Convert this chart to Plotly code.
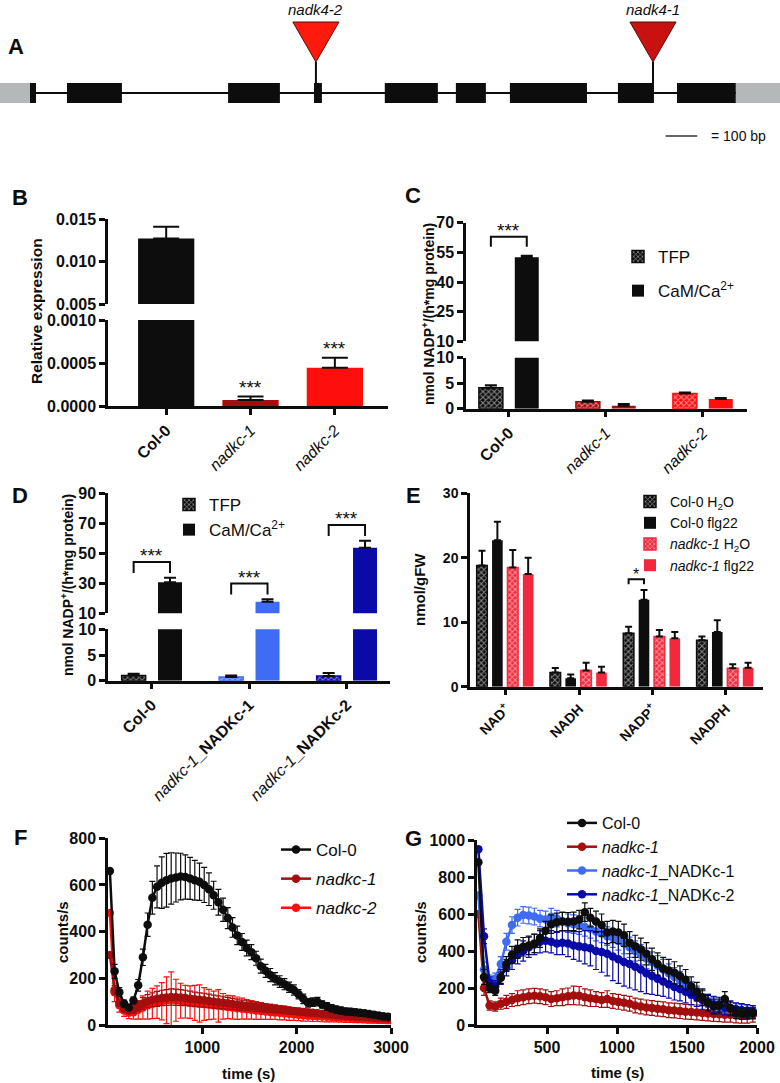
import plotly.graph_objects as go

W, H = 780, 1083
FONT = "Liberation Sans"
BLACK = "#0d0d0d"
DARKRED = "#a30e0e"
RED = "#ff0e0e"
CRIMSON = "#f2293d"
LBLUE = "#3e6cf3"
DBLUE = "#0a0aa8"
GRAY = "#b4b8b8"

# ---------------- A: gene model (bp) ----------------
GENE_LENGTH_BP = 2469
UTR_START = [0, 2329]
UTR_END = [95, 2469]
EXON_START = [95, 212, 722, 994, 1218, 1443, 1614, 1956, 2143]
EXON_END = [114, 386, 886, 1019, 1386, 1538, 1858, 2070, 2329]
INSERT_NAMES = ["nadk4-2", "nadk4-1"]
INSERT_POS = [1000, 2067]
INSERT_COLORS = ["#ff1a0d", "#c81212"]
SCALE_BAR_BP = 100

# ---------------- B: relative expression ----------------
B_CATS = ["Col-0", "nadkc-1", "nadkc-2"]
B_VALUES = [0.0127, 0.00007, 0.000445]
B_ERR = [0.0014, 0.00004, 0.000115]
B_SIG = ["", "***", "***"]
B_COLORS = [BLACK, DARKRED, RED]

# ---------------- C: NADK activity ----------------
C_CATS = ["Col-0", "nadkc-1", "nadkc-2"]
C_TFP = [4.1, 1.35, 3.0]
C_TFP_ERR = [0.5, 0.25, 0.2]
C_CAM = [52.5, 0.6, 1.9]
C_CAM_ERR = [0.8, 0.3, 0.2]
C_SIG = ["***", "", ""]
C_COLORS = [BLACK, DARKRED, RED]

# ---------------- D: complementation activity ----------------
D_CATS = ["Col-0", "nadkc-1_NADKc-1", "nadkc-1_NADKc-2"]
D_TFP = [1.0, 0.7, 0.9]
D_TFP_ERR = [0.35, 0.3, 0.6]
D_CAM = [30.7, 17.7, 53.7]
D_CAM_ERR = [3.0, 1.6, 4.7]
D_SIG = ["***", "***", "***"]
D_COLORS = [BLACK, LBLUE, DBLUE]

# ---------------- E: pyridine nucleotides ----------------
E_CATS = ["NAD+", "NADH", "NADP+", "NADPH"]
E_COL_H2O = [18.8, 2.2, 8.3, 7.2]
E_COL_H2O_ERR = [2.3, 0.7, 1.0, 0.6]
E_COL_FLG = [22.7, 1.3, 13.5, 8.5]
E_COL_FLG_ERR = [2.9, 0.6, 1.5, 1.8]
E_NAD_H2O = [18.5, 2.5, 7.8, 2.85]
E_NAD_H2O_ERR = [2.7, 1.2, 1.0, 0.65]
E_NAD_FLG = [17.5, 2.2, 7.5, 2.95]
E_NAD_FLG_ERR = [2.5, 0.9, 1.0, 0.75]
E_SIG = ["", "", "*", ""]

# ---------------- F: ROS burst ----------------
F_TIME = [20, 70, 120, 170, 220, 270, 320, 370, 420, 470, 520, 570, 620, 670, 720,
          770, 820, 870, 920, 970, 1020, 1070, 1120, 1170, 1220, 1270, 1320, 1370, 1420, 1470,
          1520, 1570, 1620, 1670, 1720, 1770, 1820, 1870, 1920, 1970, 2020, 2070, 2120, 2170, 2220,
          2270, 2320, 2370, 2420, 2470, 2520, 2570, 2620, 2670, 2720, 2770, 2820, 2870, 2920, 2970]
F_COL0 = [660, 230, 140, 92, 75, 105, 170, 290, 430, 545, 592, 610, 620, 628, 632,
          636, 634, 628, 620, 614, 600, 582, 556, 526, 494, 458, 418, 384, 356, 330,
          312, 286, 252, 232, 214, 198, 186, 175, 162, 150, 132, 112, 95, 98, 100,
          88, 80, 72, 66, 62, 58, 57, 55, 52, 50, 47, 44, 41, 37, 35]
F_COL0_ERR = [0, 30, 20, 15, 12, 15, 25, 35, 50, 70, 90, 110, 115, 110, 105,
              100, 95, 90, 85, 80, 75, 70, 60, 55, 50, 45, 42, 40, 36, 34,
              32, 30, 30, 28, 28, 26, 25, 24, 22, 22, 20, 20, 18, 18, 18,
              16, 16, 15, 15, 15, 14, 14, 14, 13, 13, 12, 12, 12, 12, 12]
F_NADKC1 = [300, 150, 95, 70, 62, 66, 80, 92, 102, 108, 112, 116, 118, 120, 119,
            118, 116, 113, 110, 108, 106, 103, 100, 98, 95, 93, 90, 88, 85, 83,
            80, 78, 76, 73, 71, 69, 67, 65, 62, 60, 58, 56, 54, 52, 50,
            48, 46, 45, 43, 41, 40, 38, 37, 35, 34, 33, 31, 30, 29, 28]
F_NADKC1_ERR = [0, 20, 15, 12, 12, 15, 20, 25, 28, 30, 32, 33, 34, 35, 35,
                34, 33, 32, 31, 30, 30, 29, 28, 27, 26, 25, 24, 23, 22, 21,
                20, 20, 19, 18, 18, 17, 16, 16, 15, 15, 14, 14, 14, 13, 13,
                12, 12, 12, 11, 11, 11, 10, 10, 10, 10, 10, 10, 10, 10, 10]
F_NADKC2 = [480, 140, 85, 62, 52, 55, 65, 75, 85, 92, 98, 102, 106, 108, 106,
            104, 100, 98, 95, 92, 90, 88, 85, 82, 80, 77, 75, 72, 70, 67,
            65, 62, 60, 58, 56, 54, 52, 50, 48, 46, 44, 42, 40, 39, 38,
            36, 35, 34, 33, 32, 31, 30, 29, 28, 27, 26, 25, 24, 23, 22]
F_NADKC2_ERR = [0, 40, 30, 25, 25, 30, 40, 50, 60, 65, 70, 80, 100, 120, 90,
                75, 70, 70, 75, 80, 70, 65, 60, 70, 55, 50, 50, 48, 45, 42,
                40, 38, 36, 34, 32, 30, 30, 28, 28, 26, 25, 25, 24, 24, 23,
                22, 22, 21, 20, 20, 20, 19, 19, 18, 18, 18, 17, 17, 16, 16]

# ---------------- G: ROS burst, complementation ----------------
G_TIME = [10, 50, 90, 130, 170, 210, 250, 290, 330, 370,
          410, 450, 490, 530, 570, 610, 650, 690, 730, 770,
          810, 850, 890, 930, 970, 1010, 1050, 1090, 1130, 1170,
          1210, 1250, 1290, 1330, 1370, 1410, 1450, 1490, 1530, 1570,
          1610, 1650, 1690, 1730, 1770, 1810, 1850, 1890, 1930, 1970]
G_COL0 = [880, 260, 200, 185, 255, 330, 380, 410, 423, 430,
          441, 470, 510, 545, 555, 559, 558, 560, 570, 610,
          580, 560, 540, 500, 505, 500, 485, 445, 425, 410,
          385, 355, 330, 306, 295, 282, 265, 245, 210, 180,
          150, 120, 100, 110, 140, 90, 65, 60, 62, 63]
G_COL0_ERR = [0, 40, 25, 25, 30, 40, 45, 50, 50, 50,
              50, 50, 50, 50, 50, 50, 50, 50, 50, 50,
              50, 55, 60, 60, 60, 60, 60, 60, 60, 60,
              60, 60, 60, 60, 60, 60, 55, 55, 50, 50,
              45, 40, 40, 40, 40, 35, 30, 30, 30, 30]
G_NADKC1 = [600, 200, 105, 100, 115, 125, 135, 145, 150, 155,
            158, 155, 150, 140, 145, 150, 155, 160, 158, 150,
            145, 140, 135, 140, 130, 125, 120, 115, 105, 100,
            95, 92, 88, 85, 80, 78, 75, 72, 70, 68,
            65, 62, 60, 58, 55, 55, 52, 50, 50, 55]
G_NADKC1_ERR = [0, 40, 25, 25, 30, 35, 35, 40, 40, 40,
                40, 40, 40, 40, 40, 45, 45, 50, 50, 45,
                45, 40, 40, 45, 40, 40, 40, 40, 40, 40,
                40, 40, 40, 40, 40, 40, 40, 40, 40, 40,
                40, 40, 40, 40, 40, 40, 40, 40, 40, 40]
G_COMP1 = [700, 300, 240, 250, 330, 450, 540, 580, 595, 592,
           586, 575, 570, 585, 575, 560, 550, 545, 540, 530,
           520, 505, 495, 480, 470, 455, 440, 420, 400, 380,
           360, 340, 320, 300, 280, 260, 240, 215, 190, 170,
           150, 130, 115, 100, 95, 90, 85, 80, 78, 75]
G_COMP1_ERR = [0, 40, 30, 30, 40, 45, 45, 45, 45, 45,
               45, 45, 45, 45, 45, 50, 50, 50, 50, 50,
               50, 50, 50, 50, 50, 50, 55, 55, 55, 55,
               55, 55, 55, 55, 50, 50, 50, 45, 45, 40,
               40, 35, 35, 30, 30, 30, 30, 30, 30, 30]
G_COMP2 = [950, 480, 230, 210, 260, 310, 350, 380, 400, 420,
           435, 450, 455, 450, 440, 445, 440, 430, 425, 420,
           415, 400, 395, 385, 370, 355, 340, 330, 315, 300,
           280, 265, 250, 235, 220, 205, 195, 180, 165, 150,
           135, 120, 110, 100, 95, 90, 85, 80, 75, 70]
G_COMP2_ERR = [0, 40, 30, 30, 40, 45, 50, 50, 55, 55,
               55, 60, 60, 60, 60, 65, 70, 75, 80, 90,
               95, 100, 110, 120, 130, 130, 130, 130, 125, 120,
               110, 100, 90, 80, 75, 70, 65, 60, 55, 50,
               50, 45, 45, 40, 40, 40, 35, 35, 35, 35]


def X(p):
    return p / W


def Y(p):
    return 1 - p / H


TICK_FONT = dict(family=FONT, size=16, color=BLACK, weight="bold")


def axis(**kw):
    d = dict(showline=True, linecolor=BLACK, linewidth=2.5, ticks="outside", ticklen=6,
             tickwidth=2.5, tickcolor=BLACK, showgrid=False, zeroline=False, fixedrange=True,
             automargin=False, tickfont=TICK_FONT)
    d.update(kw)
    return d


def xax(p0, p1, anchor, rng, **kw):
    return axis(domain=[X(p0), X(p1)], anchor=anchor, range=rng, **kw)


def yax(ptop, pbot, anchor, rng, **kw):
    return axis(domain=[Y(pbot), Y(ptop)], anchor=anchor, range=rng, **kw)


CAT_FONT = dict(family=FONT, size=16, color=BLACK, weight="normal")

fig = go.Figure()
annotations = []


def ann(text, x, y, size=15, xanchor="center", yanchor="middle", angle=0, xref="paper", yref="paper", yshift=0, **kw):
    annotations.append(dict(text=text, x=x, y=y, xref=xref, yref=yref, showarrow=False,
                            xanchor=xanchor, yanchor=yanchor, textangle=angle, yshift=yshift,
                            font=dict(family=FONT, size=size, color=BLACK), **kw))


# ================= Panel A =================
GENE_Y = 93
BOX_H = 20
fig.add_trace(go.Scatter(x=[EXON_START[0], EXON_END[-1]], y=[GENE_Y, GENE_Y], mode="lines",
                         line=dict(color=BLACK, width=2), xaxis="x", yaxis="y", showlegend=False, hoverinfo="skip"))
fig.add_trace(go.Bar(y=[GENE_Y] * len(UTR_START), x=[e - s for s, e in zip(UTR_START, UTR_END)], base=UTR_START,
                     orientation="h", width=BOX_H, marker=dict(color=GRAY, line_width=0),
                     xaxis="x", yaxis="y", showlegend=False, hoverinfo="skip"))
fig.add_trace(go.Bar(y=[GENE_Y] * len(EXON_START), x=[e - s for s, e in zip(EXON_START, EXON_END)], base=EXON_START,
                     orientation="h", width=BOX_H, marker=dict(color=BLACK, line_width=0),
                     xaxis="x", yaxis="y", showlegend=False, hoverinfo="skip"))
TRI_HALF_BP = 73
TRI_TOP, TRI_APEX = 22, 62
for name, pos, col in zip(INSERT_NAMES, INSERT_POS, INSERT_COLORS):
    fig.add_trace(go.Scatter(x=[pos, pos], y=[TRI_APEX, GENE_Y - BOX_H / 2], mode="lines",
                             line=dict(color=BLACK, width=2), xaxis="x", yaxis="y", showlegend=False, hoverinfo="skip"))
    fig.add_trace(go.Scatter(x=[pos - TRI_HALF_BP, pos + TRI_HALF_BP, pos, pos - TRI_HALF_BP],
                             y=[TRI_TOP, TRI_TOP, TRI_APEX, TRI_TOP], mode="lines", fill="toself",
                             fillcolor=col, line=dict(color="#5a0a0a", width=1), xaxis="x", yaxis="y",
                             showlegend=False, hoverinfo="skip"))
    ann("<i>%s</i>" % name, pos, 9, size=15, xref="x", yref="y")
SCALE_X0 = 2107
fig.add_trace(go.Scatter(x=[SCALE_X0, SCALE_X0 + SCALE_BAR_BP], y=[136, 136], mode="lines",
                         line=dict(color="#333333", width=1.5), xaxis="x", yaxis="y", showlegend=False, hoverinfo="skip"))
ann("= %d bp" % SCALE_BAR_BP, X(709), Y(136), size=14, xanchor="left")

# ================= bar helper =================
PATTERN = dict(shape="x", fgcolor="white", fillmode="overlay", size=4, solidity=0.45)


def add_bar(vals, errs, colors, xa, ya, offset, width, patterned, capw, name=None, legend=None,
            showlegend=False, rank=1, group=None):
    n = len(vals)
    marker = dict(color=colors, line=dict(color=colors, width=1.5 if patterned else 0))
    if patterned:
        marker["pattern"] = PATTERN
    fig.add_trace(go.Bar(x=list(range(n)), y=vals, offset=offset, width=width, xaxis=xa, yaxis=ya,
                         marker=marker, name=name, legend=legend, showlegend=showlegend,
                         legendrank=rank, legendgroup=group, hoverinfo="skip",
                         error_y=dict(type="data", array=errs, arrayminus=[0] * n, symmetric=False,
                                      color=BLACK, thickness=2, width=capw)))


def add_bracket(xa, ya, x0, x1, top, leg):
    fig.add_trace(go.Scatter(x=[x0, x0, x1, x1], y=[top - leg, top, top, top - leg], mode="lines",
                             line=dict(color=BLACK, width=2), xaxis=xa, yaxis=ya, showlegend=False,
                             hoverinfo="skip"))


STAR = 19

# ================= Panel B =================
for ya in ("y2", "y3"):
    fig.add_trace(go.Bar(x=list(range(len(B_CATS))), y=B_VALUES, width=0.667, xaxis="x2", yaxis=ya,
                         marker=dict(color=B_COLORS, line_width=0), showlegend=False, hoverinfo="skip",
                         error_y=dict(type="data", array=B_ERR, arrayminus=[0] * 3, symmetric=False,
                                      color=BLACK, thickness=2, width=13)))
for i, s in enumerate(B_SIG):
    if s:
        ann(s, i, B_VALUES[i] + B_ERR[i], size=STAR, xref="x2", yref="y2", yanchor="bottom", yshift=-3)

# ================= Panel C =================
TW, TOFF, COFF = 0.247, -0.31, 0.06
for ya, show in (("y4", True), ("y5", False)):
    add_bar(C_TFP, C_TFP_ERR, C_COLORS, "x3", ya, TOFF, TW, True, 6, "TFP", "legend", show, 1, "c1")
    add_bar(C_CAM, C_CAM_ERR, C_COLORS, "x3", ya, COFF, TW, False, 6, "CaM/Ca<sup>2+</sup>", "legend", show, 2, "c2")
for i, s in enumerate(C_SIG):
    if s:
        top = max(C_CAM[i] + C_CAM_ERR[i], C_TFP[i] + C_TFP_ERR[i]) + 9.6
        xa0, xa1 = i + TOFF + TW / 2, i + COFF + TW / 2
        add_bracket("x3", "y5", xa0, xa1, top, 5.1)
        ann(s, (xa0 + xa1) / 2, top, size=STAR, xref="x3", yref="y5", yanchor="bottom", yshift=-6)

# ================= Panel D =================
DW, DTOFF, DCOFF = 0.246, -0.308, 0.065
for ya, show in (("y6", True), ("y7", False)):
    add_bar(D_TFP, D_TFP_ERR, D_COLORS, "x4", ya, DTOFF, DW, True, 6, "TFP", "legend2", show, 1, "d1")
    add_bar(D_CAM, D_CAM_ERR, D_COLORS, "x4", ya, DCOFF, DW, False, 6, "CaM/Ca<sup>2+</sup>", "legend2", show, 2, "d2")
for i, s in enumerate(D_SIG):
    if s:
        top = max(D_CAM[i] + D_CAM_ERR[i], D_TFP[i] + D_TFP_ERR[i]) + 10.5
        xa0, xa1 = i + DTOFF + DW / 2, i + DCOFF + DW / 2
        add_bracket("x4", "y7", xa0, xa1, top, 7.3)
        ann(s, (xa0 + xa1) / 2, top, size=STAR, xref="x4", yref="y7", yanchor="bottom", yshift=-6)

# ================= Panel E =================
EW = 0.145
E_OFFS = [-0.40, -0.19, 0.02, 0.23]
E_SERIES = [
    (E_COL_H2O, E_COL_H2O_ERR, BLACK, True, "Col-0 H<sub>2</sub>O"),
    (E_COL_FLG, E_COL_FLG_ERR, BLACK, False, "Col-0 flg22"),
    (E_NAD_H2O, E_NAD_H2O_ERR, CRIMSON, True, "<i>nadkc-1</i> H<sub>2</sub>O"),
    (E_NAD_FLG, E_NAD_FLG_ERR, CRIMSON, False, "<i>nadkc-1</i> flg22"),
]
for k, (v, e, c, pat, nm) in enumerate(E_SERIES):
    add_bar(v, e, [c] * len(v), "x5", "y8", E_OFFS[k], EW, pat, 3.5, nm, "legend3", True, k + 1, "e%d" % k)
for i, s in enumerate(E_SIG):
    if s:
        top = max(E_COL_H2O[i] + E_COL_H2O_ERR[i], E_COL_FLG[i] + E_COL_FLG_ERR[i]) + 1.65
        xa0, xa1 = i + E_OFFS[0] + EW / 2, i + E_OFFS[1] + EW / 2
        add_bracket("x5", "y8", xa0, xa1, top, 0.75)
        ann(s, (xa0 + xa1) / 2, top, size=16, xref="x5", yref="y8", yanchor="bottom", yshift=-6)


# ================= Panels F & G =================
def add_curve(t, v, e, color, xa, ya, name, legend, rank):
    fig.add_trace(go.Scatter(x=t, y=v, mode="lines+markers", line=dict(color=color, width=2.5),
                             marker=dict(color=color, size=8.5), xaxis=xa, yaxis=ya, name=name,
                             legend=legend, legendrank=rank, legendgroup="%s%d" % (legend, rank),
                             hoverinfo="skip",
                             error_y=dict(type="data", array=e, color=color, thickness=1.2, width=3)))


add_curve(F_TIME, F_NADKC2, F_NADKC2_ERR, RED, "x6", "y9", "<i>nadkc-2</i>", "legend4", 3)
add_curve(F_TIME, F_NADKC1, F_NADKC1_ERR, DARKRED, "x6", "y9", "<i>nadkc-1</i>", "legend4", 2)
add_curve(F_TIME, F_COL0, F_COL0_ERR, BLACK, "x6", "y9", "Col-0", "legend4", 1)

add_curve(G_TIME, G_NADKC1, G_NADKC1_ERR, DARKRED, "x7", "y10", "<i>nadkc-1</i>", "legend5", 2)
add_curve(G_TIME, G_COMP1, G_COMP1_ERR, LBLUE, "x7", "y10", "<i>nadkc-1</i>_NADKc-1", "legend5", 3)
add_curve(G_TIME, G_COMP2, G_COMP2_ERR, DBLUE, "x7", "y10", "<i>nadkc-1</i>_NADKc-2", "legend5", 4)
add_curve(G_TIME, G_COL0, G_COL0_ERR, BLACK, "x7", "y10", "Col-0", "legend5", 1)

# ================= texts =================
for lab, px, py in (("A", 16, 46), ("B", 20, 197), ("C", 413, 195), ("D", 20, 495),
                    ("E", 413, 495), ("F", 20, 837), ("G", 413, 838)):
    ann("<b>%s</b>" % lab, X(px), Y(py), size=22)

YT = "<b>nmol NADP<sup>+</sup>/(h*mg protein)</b>"
ann("<b>Relative expression</b>", X(37), Y(311), size=15.5, angle=-90)
ann(YT, X(428), Y(314), size=14, angle=-90)
ann(YT, X(67), Y(585), size=14, angle=-90)
ann("<b>nmol/gFW</b>", X(419), Y(590), size=15, angle=-90)
ann("<b>counts/s</b>", X(62), Y(932), size=15, angle=-90)
ann("<b>counts/s</b>", X(420), Y(932), size=15, angle=-90)
ann("<b>time (s)</b>", X(249), Y(1073), size=15)
ann("<b>time (s)</b>", X(617), Y(1072), size=15)


def cat_text(cats):
    out = []
    for c in cats:
        if c.startswith("nadkc"):
            if "_" in c:
                a, b = c.split("_", 1)
                out.append("<i>%s</i><b>_%s</b>" % (a, b))
            else:
                out.append("<i>%s</i>" % c)
        else:
            out.append("<b>%s</b>" % c.replace("+", "<sup>+</sup>"))
    return out


def leg(px, ptop, size, gap):
    return dict(x=X(px), y=Y(ptop), xanchor="left", yanchor="top", bgcolor="rgba(0,0,0,0)",
                font=dict(family=FONT, size=size, color=BLACK), tracegroupgap=gap,
                itemclick=False, itemdoubleclick=False, borderwidth=0)


fig.update_layout(
    width=W, height=H, margin=dict(l=0, r=0, t=0, b=0, pad=0, autoexpand=False), autosize=False,
    paper_bgcolor="white", plot_bgcolor="rgba(0,0,0,0)", barmode="overlay",
    font=dict(family=FONT, color=BLACK), annotations=annotations,
    xaxis=dict(domain=[0, 1], range=[0, GENE_LENGTH_BP], visible=False, anchor="y", fixedrange=True),
    yaxis=dict(domain=[Y(150), 1], range=[150, 0], visible=False, anchor="x", fixedrange=True),
    # B
    xaxis2=xax(108, 388, "y2", [-0.69, 2.63], tickvals=list(range(3)), ticktext=cat_text(B_CATS),
               tickangle=-45, tickfont=CAT_FONT),
    yaxis2=yax(320, 406, "x2", [0, 0.001], tickvals=[0, 0.0005, 0.001], tickformat=".4f"),
    yaxis3=yax(219, 304, "x2", [0.005, 0.015], tickvals=[0.005, 0.010, 0.015], tickformat=".3f"),
    # C
    xaxis3=xax(466, 747, "y4", [-0.443, 2.454], tickvals=list(range(3)), ticktext=cat_text(C_CATS),
               tickangle=-45, tickfont=CAT_FONT),
    yaxis4=yax(357.7, 408.7, "x3", [0, 10], tickvals=[0, 5, 10]),
    yaxis5=yax(222.7, 341.3, "x3", [10, 70], tickvals=[10, 25, 40, 55, 70]),
    # D
    xaxis4=xax(108, 390, "y6", [-0.448, 2.444], tickvals=list(range(3)), ticktext=cat_text(D_CATS),
               tickangle=-45, tickfont=CAT_FONT),
    yaxis6=yax(629.3, 680.7, "x4", [0, 10], tickvals=[0, 5, 10]),
    yaxis7=yax(493.3, 613.3, "x4", [10, 90], tickvals=[10, 30, 50, 70, 90]),
    # E
    xaxis5=xax(470, 763, "y8", [-0.491, 3.506], tickvals=list(range(4)), ticktext=cat_text(E_CATS),
               tickangle=-45, tickfont=dict(family=FONT, size=14, color=BLACK, weight="normal")),
    yaxis8=yax(493.3, 686.7, "x5", [0, 30], tickvals=[0, 10, 20, 30],
               tickfont=dict(family=FONT, size=14, color=BLACK, weight="bold")),
    # F
    xaxis6=xax(108, 391, "y9", [0, 3000], tickvals=[1000, 2000, 3000]),
    yaxis9=yax(838.3, 1025, "x6", [0, 800], tickvals=[0, 200, 400, 600, 800]),
    # G
    xaxis7=xax(477, 757, "y10", [0, 2000], tickvals=[500, 1000, 1500, 2000]),
    yaxis10=yax(840, 1025, "x7", [0, 1000], tickvals=[0, 200, 400, 600, 800, 1000]),
    legend=leg(618, 239, 17, 9),
    legend2=leg(169, 487, 17, 0),
    legend3=leg(630, 486, 14, 0),
    legend4=leg(276, 832, 17, 4),
    legend5=leg(562, 806, 16, 0),
)

fig.write_html("out.html", config={"displayModeBar": False, "responsive": False},
               post_script="document.documentElement.style.margin='0px';document.documentElement.style.overflow='hidden';document.body.style.margin='0px';document.body.style.overflow='hidden';")
